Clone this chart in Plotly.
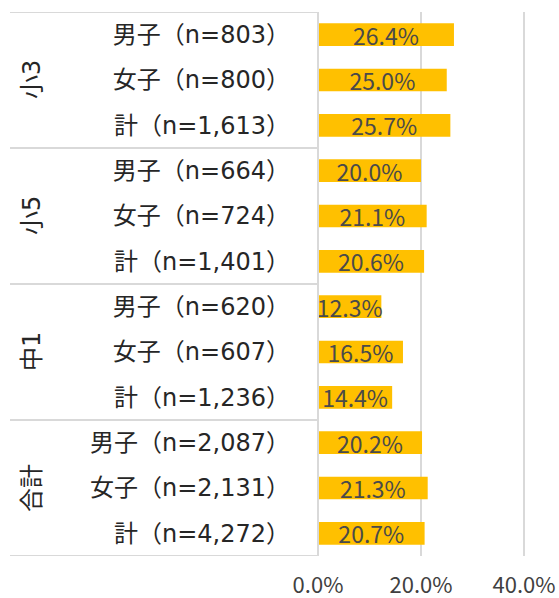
import plotly.graph_objects as go

groups = ["小3", "小5", "中1", "合計"]
sub_labels = [
    "男子（n=803）", "女子（n=800）", "計（n=1,613）",
    "男子（n=664）", "女子（n=724）", "計（n=1,401）",
    "男子（n=620）", "女子（n=607）", "計（n=1,236）",
    "男子（n=2,087）", "女子（n=2,131）", "計（n=4,272）",
]
values = [26.4, 25.0, 25.7, 20.0, 21.1, 20.6, 12.3, 16.5, 14.4, 20.2, 21.3, 20.7]

LABEL_FONT = "DejaVu Sans, Noto Sans CJK JP"
NUM_FONT = "Liberation Sans Narrow, Noto Sans CJK JP"
GRID = "#D9D9D9"

fig = go.Figure()
fig.add_trace(go.Bar(
    x=values, y=sub_labels, orientation="h",
    marker=dict(color="#FFC000", line=dict(width=0)),
    width=0.5,
    text=[f"{v:.1f}%" for v in values],
    textposition="inside", insidetextanchor="middle",
    constraintext="none",
    textfont=dict(family=NUM_FONT, size=23, color="#4a4a4a"),
    hoverinfo="skip",
))

plot_left, plot_right, W = 318, 555, 559
pw = plot_right - plot_left
x_table_left = (10 - plot_left) / pw
x_group = (32 - plot_left) / pw

shapes = []
for k in range(len(groups) + 1):
    yv = k * 3 - 0.5
    shapes.append(dict(type="line", xref="paper", yref="y", x0=x_table_left, x1=0,
                       y0=yv, y1=yv, line=dict(color=GRID, width=2)))
shapes.append(dict(type="line", xref="paper", yref="y", x0=0, x1=0,
                   y0=-0.5, y1=len(sub_labels) - 0.5, line=dict(color=GRID, width=2)))

annotations = []
for i, g in enumerate(groups):
    annotations.append(dict(xref="paper", yref="y", x=x_group, y=i * 3 + 1,
                            text=g, showarrow=False, textangle=-90,
                            font=dict(family=LABEL_FONT, size=24, color="#262626"),
                            xanchor="center", yanchor="middle"))

fig.update_layout(
    width=W, height=598,
    margin=dict(l=plot_left, r=W - plot_right, t=12, b=42),
    plot_bgcolor="white", paper_bgcolor="white",
    showlegend=False,
    shapes=shapes, annotations=annotations,
    xaxis=dict(range=[0, pw / 5.15], tickvals=[0, 20, 40], ticktext=["0.0%", "20.0%", "40.0%"],
               showgrid=True, gridcolor=GRID, gridwidth=2, zeroline=False, showline=False,
               ticks="", ticklabelstandoff=14, automargin=False,
               tickfont=dict(family=NUM_FONT, size=22, color="#404040")),
    yaxis=dict(categoryorder="array", categoryarray=sub_labels, autorange=False,
               range=[len(sub_labels) - 0.5, -0.5],
               showgrid=False, zeroline=False, showline=False, ticks="",
               ticklabelstandoff=27, automargin=False,
               tickfont=dict(family=LABEL_FONT, size=24, color="#262626")),
)

fig.write_html("out.html", config={"displayModeBar": False},
               post_script="document.body.style.margin='0';document.body.style.overflow='hidden';")
